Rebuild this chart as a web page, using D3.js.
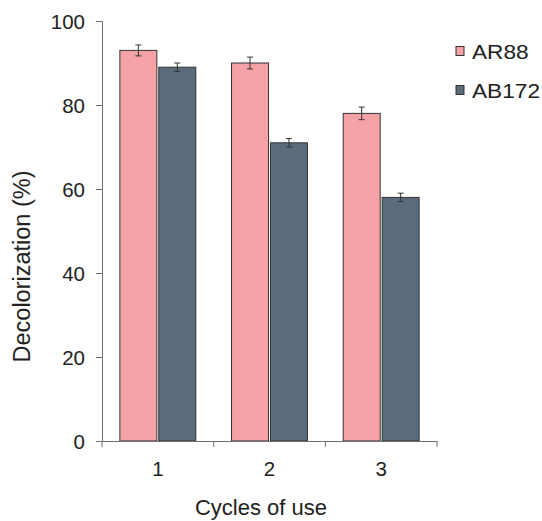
<!DOCTYPE html>
<html><head><meta charset="utf-8">
<script src="https://cdn.jsdelivr.net/npm/d3@7"></script>
<style>
html,body{margin:0;padding:0;background:#fff;}
text{font-family:"Liberation Sans",Arial,sans-serif;fill:#222;}
</style></head>
<body>
<script>
const cycles = ["1","2","3"];
const seriesNames = ["AR88","AB172"];
const ar88 = [93, 90, 78];
const ab172 = [89, 71, 58];
const ar88Err = [1.3, 1.4, 1.5];
const ab172Err = [1.0, 1.0, 1.0];
const yTicks = [0,20,40,60,80,100];
const colors = ["#F4A2A5","#5A6B7C"];

const W=542,H=521;
const m={left:102,right:105,top:21,bottom:80};
const svg=d3.select("body").append("svg").attr("width",W).attr("height",H);
const x=d3.scaleBand().domain(cycles).range([m.left,W-m.right]).paddingInner(0.32).paddingOuter(0.16);
const xi=d3.scaleBand().domain(seriesNames).range([0,x.bandwidth()]).paddingInner(0.05);
const y=d3.scaleLinear().domain([0,100]).range([H-m.bottom,m.top]);

function label(g, px, py, str, size, sx, anchor, rot){
  const t=g.append("g").attr("transform",`translate(${px},${py})${rot?` rotate(${rot})`:""} scale(${sx},1)`);
  t.append("text").attr("text-anchor",anchor).attr("font-size",size).text(str);
  return t;
}

const data=[ar88,ab172], errs=[ar88Err,ab172Err];
seriesNames.forEach((s,si)=>{
  const g=svg.append("g");
  g.selectAll("rect").data(cycles).join("rect")
    .attr("x",c=>x(c)+xi(s)).attr("width",xi.bandwidth())
    .attr("y",(c,i)=>y(data[si][i])).attr("height",(c,i)=>y(0)-y(data[si][i]))
    .attr("fill",colors[si]).attr("stroke","#333").attr("stroke-width",1);
  cycles.forEach((c,i)=>{
    const cx=x(c)+xi(s)+xi.bandwidth()/2, v=data[si][i], e=errs[si][i];
    g.append("line").attr("x1",cx).attr("x2",cx).attr("y1",y(v+e)).attr("y2",y(v-e)).attr("stroke","#333");
    [v+e,v-e].forEach(t=>g.append("line").attr("x1",cx-3).attr("x2",cx+3).attr("y1",y(t)).attr("y2",y(t)).attr("stroke","#333"));
  });
});

// y axis
const ya=svg.append("g").attr("transform",`translate(${m.left},0)`)
  .call(d3.axisLeft(y).tickValues(yTicks).tickSize(6).tickFormat(""));
ya.select(".domain").attr("stroke","#707070");
ya.selectAll(".tick line").attr("stroke","#707070");
yTicks.forEach(v=>label(svg, 85, y(v)+7.5, String(v), 20.5, 1, "end"));

// x axis
const xa=svg.append("g").attr("transform",`translate(0,${y(0)})`)
  .call(d3.axisBottom(x).tickSize(0).tickFormat(""));
xa.select(".domain").attr("stroke","#707070");
const bounds=[m.left].concat(cycles.map(c=>x(c)+x.bandwidth()+x.step()*x.paddingInner()/2));
bounds[bounds.length-1]=W-m.right;
xa.selectAll("line.sep").data(bounds).join("line").attr("class","sep")
  .attr("x1",d=>d).attr("x2",d=>d).attr("y1",0).attr("y2",6).attr("stroke","#707070");
cycles.forEach(c=>label(svg, x(c)+x.bandwidth()/2, 476, c, 20.5, 1, "middle"));

label(svg, 30, 266.5, "Decolorization (%)", 23.5, 1, "middle", -90);
label(svg, 261, 515, "Cycles of use", 22, 1, "middle");

// legend
const lg=svg.append("g");
seriesNames.forEach((s,i)=>{
  const ly=59+i*39;
  lg.append("rect").attr("x",456).attr("y",ly-12.5).attr("width",8).attr("height",9)
    .attr("fill",colors[i]).attr("stroke","#333");
  label(lg, 472, ly, s, 21, 1.08, "start");
});
</script>
</body></html>
